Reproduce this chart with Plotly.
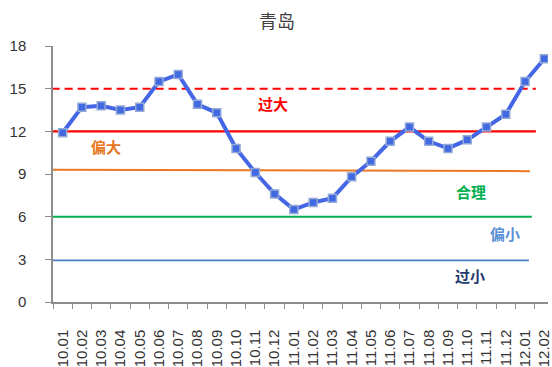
import plotly.graph_objects as go

# Daily index values for 青岛
dates = ["10.01", "10.02", "10.03", "10.04", "10.05", "10.06", "10.07", "10.08",
         "10.09", "10.10", "10.11", "10.12", "11.01", "11.02", "11.03", "11.04",
         "11.05", "11.06", "11.07", "11.08", "11.09", "11.10", "11.11", "11.12",
         "12.01", "12.02"]
values = [11.9, 13.7, 13.8, 13.5, 13.7, 15.5, 16.0, 13.9,
          13.3, 10.8, 9.1, 7.6, 6.5, 7.0, 7.3, 8.8,
          9.9, 11.3, 12.3, 11.3, 10.8, 11.4, 12.3, 13.2,
          15.5, 17.1]

# Band boundaries: (left value, right value)
level_too_high = [15.0, 15.0]
level_high = [12.0, 12.0]
level_fair = [9.3, 9.2]
level_low = [6.0, 6.0]
level_too_low = [2.93, 2.93]

# Band names
band_labels = ["过大", "偏大", "合理", "偏小", "过小"]
y_ticks = [0, 3, 6, 9, 12, 15, 18]

fig = go.Figure()

fig.add_trace(go.Scatter(
    x=dates, y=values, mode="lines+markers",
    line=dict(color="#4466E6", width=4),
    marker=dict(symbol="square", size=8, color="#4169E1",
                line=dict(color="#93A9D6", width=1.5)),
    showlegend=False, hoverinfo="x+y",
))

def band_line(levels, x0, x1, color, width, dash="solid"):
    fig.add_shape(type="line", xref="x", yref="y",
                  x0=x0, x1=x1, y0=levels[0], y1=levels[1],
                  line=dict(color=color, width=width, dash=dash),
                  layer="below")

band_line(level_too_high, -0.57, 24.56, "#FF0000", 2, dash="8px,5px")
band_line(level_high, -0.89, 24.56, "#FF0000", 2.2)
band_line(level_fair, -1.03, 24.25, "#EA7722", 2)
band_line(level_low, -0.82, 24.35, "#00B050", 2)
band_line(level_too_low, -0.72, 24.2, "#4A7EC4", 1.6)

label_style = [
    (band_labels[0], 10.9, 13.95, "#FF0000"),
    (band_labels[1], 2.26, 10.9, "#E8761E"),
    (band_labels[2], 21.2, 7.76, "#00B050"),
    (band_labels[3], 22.95, 4.8, "#5B8FD6"),
    (band_labels[4], 21.15, 1.84, "#1F3B6E"),
]
for text, xi, yi, color in label_style:
    fig.add_annotation(x=xi, y=yi, xref="x", yref="y", text=f"<b>{text}</b>",
                       showarrow=False,
                       font=dict(family="Noto Sans CJK SC", size=15, color=color))

fig.update_layout(
    width=552, height=367,
    margin=dict(l=53, r=0, t=46, b=63),
    paper_bgcolor="white", plot_bgcolor="white",
    title=dict(text="青岛", x=277 / 552, xanchor="center", y=1 - 22 / 367,
               yanchor="middle",
               font=dict(family="Noto Sans CJK SC", size=18, color="#404040")),
    font=dict(family="Liberation Sans", size=15, color="#333333"),
)

fig.update_xaxes(
    type="category", range=[-0.5, 25.19],
    showline=True, linecolor="#8C8C8C", linewidth=1.5,
    ticks="outside", tickson="boundaries", ticklen=5, tickcolor="#8C8C8C",
    tickangle=-90, ticklabelstandoff=20, showgrid=False, zeroline=False,
    tickfont=dict(family="Liberation Sans", size=15, color="#333333"),
)
fig.update_yaxes(
    range=[0, 18], tickvals=y_ticks,
    showline=True, linecolor="#8C8C8C", linewidth=1.5,
    ticks="outside", ticklen=6, tickcolor="#8C8C8C",
    ticklabelstandoff=16, showgrid=False, zeroline=False,
    tickfont=dict(family="Liberation Sans", size=15, color="#333333"),
)

fig.write_html("out.html")
